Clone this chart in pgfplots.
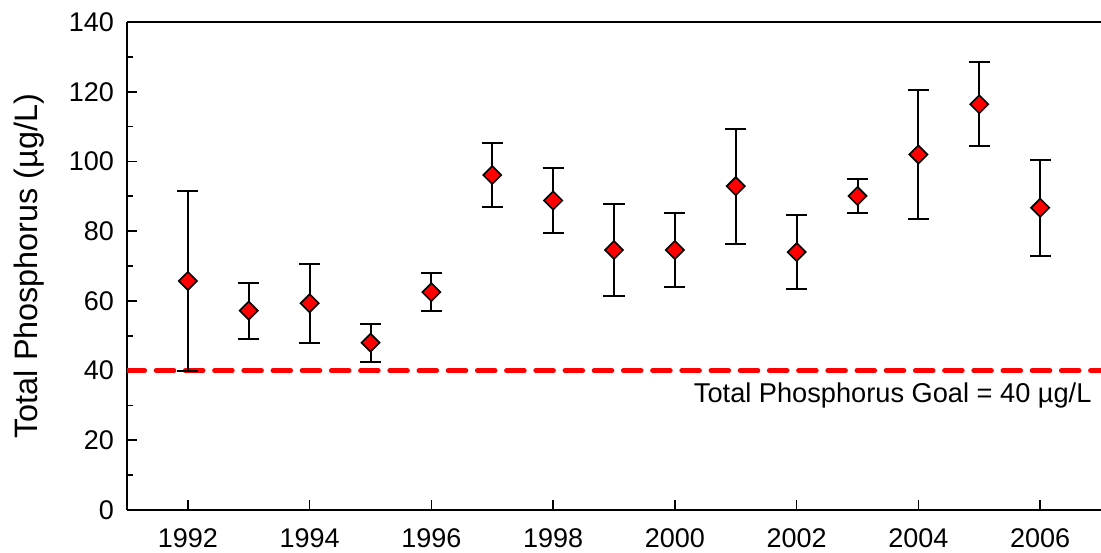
\documentclass[border=0pt]{standalone}
\usepackage{fontspec}
\setmainfont{Liberation Sans}
\usepackage{pgfplots}
\pgfplotsset{compat=1.18}
\usepackage{pgfplotstable}
\usetikzlibrary{calc}
\definecolor{goalred}{HTML}{FF0000}

% annual mean total phosphorus with error (ug/L)
\pgfplotstableread{
year tp   err
1992 65.7 25.8
1993 57.2 8.0
1994 59.3 11.4
1995 48.0 5.5
1996 62.5 5.4
1997 96.1 9.3
1998 88.8 9.2
1999 74.6 13.1
2000 74.6 10.7
2001 92.9 16.5
2002 74.0 10.7
2003 90.1 4.9
2004 102.0 18.5
2005 116.4 12.0
2006 86.7 13.8
}\tpdata

\begin{document}
\begin{tikzpicture}
\begin{axis}[
    scale only axis, width=487bp, height=244bp,
    xmin=1991, xmax=2007, ymin=0, ymax=140,
    axis x line*=bottom, axis y line*=left,
    axis line style={line width=0.8bp, black},
    tick align=inside, major tick length=5bp, minor tick length=3bp,
    tick style={line width=0.8bp, black},
    xtick={1992,1994,...,2006}, ytick={0,20,...,140},
    minor ytick={10,30,...,130}, minor xtick={},
    tick label style={font=\fontsize{13.5bp}{16bp}\selectfont},
    xticklabel style={yshift=-6bp},
    yticklabel style={xshift=-3bp},
    /pgf/number format/assume math mode=true,
    /pgf/number format/1000 sep={},
    ylabel={Total Phosphorus (µg/L)},
    every axis y label/.style={at={(axis description cs:-0.1,0.5)}, rotate=90, anchor=center,
        font=\fontsize{16.2bp}{19bp}\selectfont},
  ]
  \coordinate (bl) at (rel axis cs:0,0);
  \coordinate (tr) at (rel axis cs:1,1);
  \draw[line width=0.8bp] (rel axis cs:0,1) -- (rel axis cs:1,1);
  \addplot[goalred, line width=2.5bp, line cap=round, dash pattern=on 8.8bp off 5.8bp]
    coordinates {(1991,40) (2007,40)};
  \addplot[only marks, mark=square*, mark size=3.2bp,
      mark options={rotate=45, fill=goalred, draw=black, line width=0.8bp, solid},
      error bars/.cd, y dir=both, y explicit,
      error bar style={line width=1bp, black},
      error mark options={rotate=90, line width=1bp, black, mark size=5.3bp}]
    table[x=year, y=tp, y error=err] {\tpdata};
  \node[anchor=east, inner sep=0, font=\fontsize{13.6bp}{16bp}\selectfont]
    at (axis cs:2006.85,33) {Total Phosphorus Goal = 40 µg/L};
\end{axis}
\pgfresetboundingbox
\path[use as bounding box] ($(bl)+(-63.5bp,-21.5bp)$) rectangle ($(tr)+(0bp,11bp)$);
\end{tikzpicture}
\end{document}
